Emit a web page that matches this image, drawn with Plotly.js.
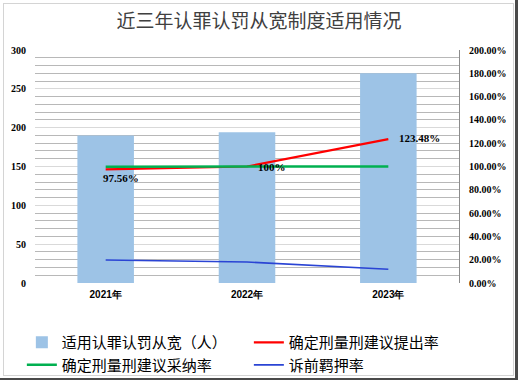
<!DOCTYPE html>
<html>
<head>
<meta charset="utf-8">
<script src="https://cdn.plot.ly/plotly-3.0.1.min.js"></script>
<style>
  html, body { margin: 0; padding: 0; background: #fff; }
  #wrap { position: relative; width: 518px; height: 380px; overflow: hidden; }
  #chart { width: 518px; height: 380px; }
  #frame { position: absolute; left: 3px; top: 3px; width: 509px; height: 371px; border: 1px solid #d4d4d4; pointer-events: none; }
  #edgeR { position: absolute; left: 515px; top: 0; width: 3px; height: 380px; background: #4a4a4a; pointer-events: none; }
  #edgeB { position: absolute; left: 0; top: 378px; width: 518px; height: 2px; background: #4a4a4a; pointer-events: none; }
</style>
</head>
<body>
<div id="wrap">
  <div id="chart"></div>
  <div id="frame"></div>
  <div id="edgeR"></div>
  <div id="edgeB"></div>
</div>
<script>
// ---- data ----
const years = ['2021年', '2022年', '2023年'];
const lenientCount = [190, 194, 270];            // 适用认罪认罚从宽（人）
const proposalRate = [0.9756, 1.0, 1.2348];       // 确定刑量刑建议提出率
const adoptionRate = [0.998, 1.0, 1.0];           // 确定刑量刑建议采纳率
const detentionRate = [0.197, 0.18, 0.118];       // 诉前羁押率
const proposalLabels = ['97.56%', '100%', '123.48%'];

const seriesNames = ['适用认罪认罚从宽（人）', '确定刑量刑建议提出率', '确定刑量刑建议采纳率', '诉前羁押率'];

const traces = [
  {
    type: 'bar', name: seriesNames[0], x: years, y: lenientCount,
    marker: { color: '#9dc3e6' }, width: 0.4, yaxis: 'y', hoverinfo: 'skip'
  },
  {
    type: 'scatter', mode: 'lines', name: seriesNames[1], x: years, y: proposalRate,
    line: { color: '#ff0000', width: 2.2 }, yaxis: 'y2'
  },
  {
    type: 'scatter', mode: 'lines', name: seriesNames[2], x: years, y: adoptionRate,
    line: { color: '#00b050', width: 2.5 }, yaxis: 'y2'
  },
  {
    type: 'scatter', mode: 'lines', name: seriesNames[3], x: years, y: detentionRate,
    line: { color: '#2a44d4', width: 1.6 }, yaxis: 'y2'
  }
];

const labelOffsets = [
  { xshift: -5, yshift: -9 },
  { xshift: 9, yshift: 0 },
  { xshift: 9, yshift: 1 }
];
const annotations = years.map((yr, i) => ({
  x: yr, y: proposalRate[i], xref: 'x', yref: 'y2',
  text: proposalLabels[i], showarrow: false,
  xanchor: 'left', yanchor: 'middle',
  xshift: labelOffsets[i].xshift, yshift: labelOffsets[i].yshift,
  font: { family: 'Liberation Serif', size: 11, color: '#000', weight: 'bold' }
}));

const tickFontSerif = { family: 'Liberation Serif', size: 10, color: '#000', weight: 'bold' };

const layout = {
  width: 518, height: 380,
  margin: { l: 35, r: 59, t: 50, b: 97, autoexpand: false },
  paper_bgcolor: '#fff', plot_bgcolor: '#fff',
  title: {
    text: '近三年认罪认罚从宽制度适用情况',
    font: { family: 'Noto Sans CJK SC', size: 19, color: '#404040' },
    x: 0.5, xanchor: 'center', y: 0.945, yanchor: 'middle', yref: 'container'
  },
  showlegend: true,
  legend: {
    orientation: 'h', x: -0.031, xanchor: 'left', y: -0.185, yanchor: 'top',
    entrywidth: 182, entrywidthmode: 'pixels',
    font: { family: 'Noto Sans CJK SC', size: 15, color: '#000' },
    traceorder: 'normal', tracegroupgap: 0, itemwidth: 30
  },
  xaxis: {
    type: 'category', showgrid: false, zeroline: false, showline: false,
    ticks: '', tickfont: { family: 'Liberation Sans', size: 10, color: '#000', weight: 'bold' },
    ticklabelstandoff: 4
  },
  yaxis: {
    range: [0, 300], dtick: 50, tick0: 0, showline: false, zeroline: false,
    gridcolor: '#d9d9d9', gridwidth: 1,
    minor: { dtick: 10, showgrid: true, gridcolor: '#b8b8b8', gridwidth: 1, ticks: '' },
    ticks: '', tickfont: tickFontSerif, ticklabelstandoff: 8
  },
  yaxis2: {
    overlaying: 'y', side: 'right', range: [0, 2], dtick: 0.2, tick0: 0,
    tickformat: '.2%', showgrid: false, zeroline: false,
    showline: true, linecolor: '#8c8c8c', linewidth: 1,
    ticks: '', tickfont: tickFontSerif, ticklabelstandoff: 7
  },
  bargap: 0.6,
  annotations: annotations
};

Plotly.newPlot('chart', traces, layout, { displayModeBar: false, staticPlot: true });
</script>
</body>
</html>
